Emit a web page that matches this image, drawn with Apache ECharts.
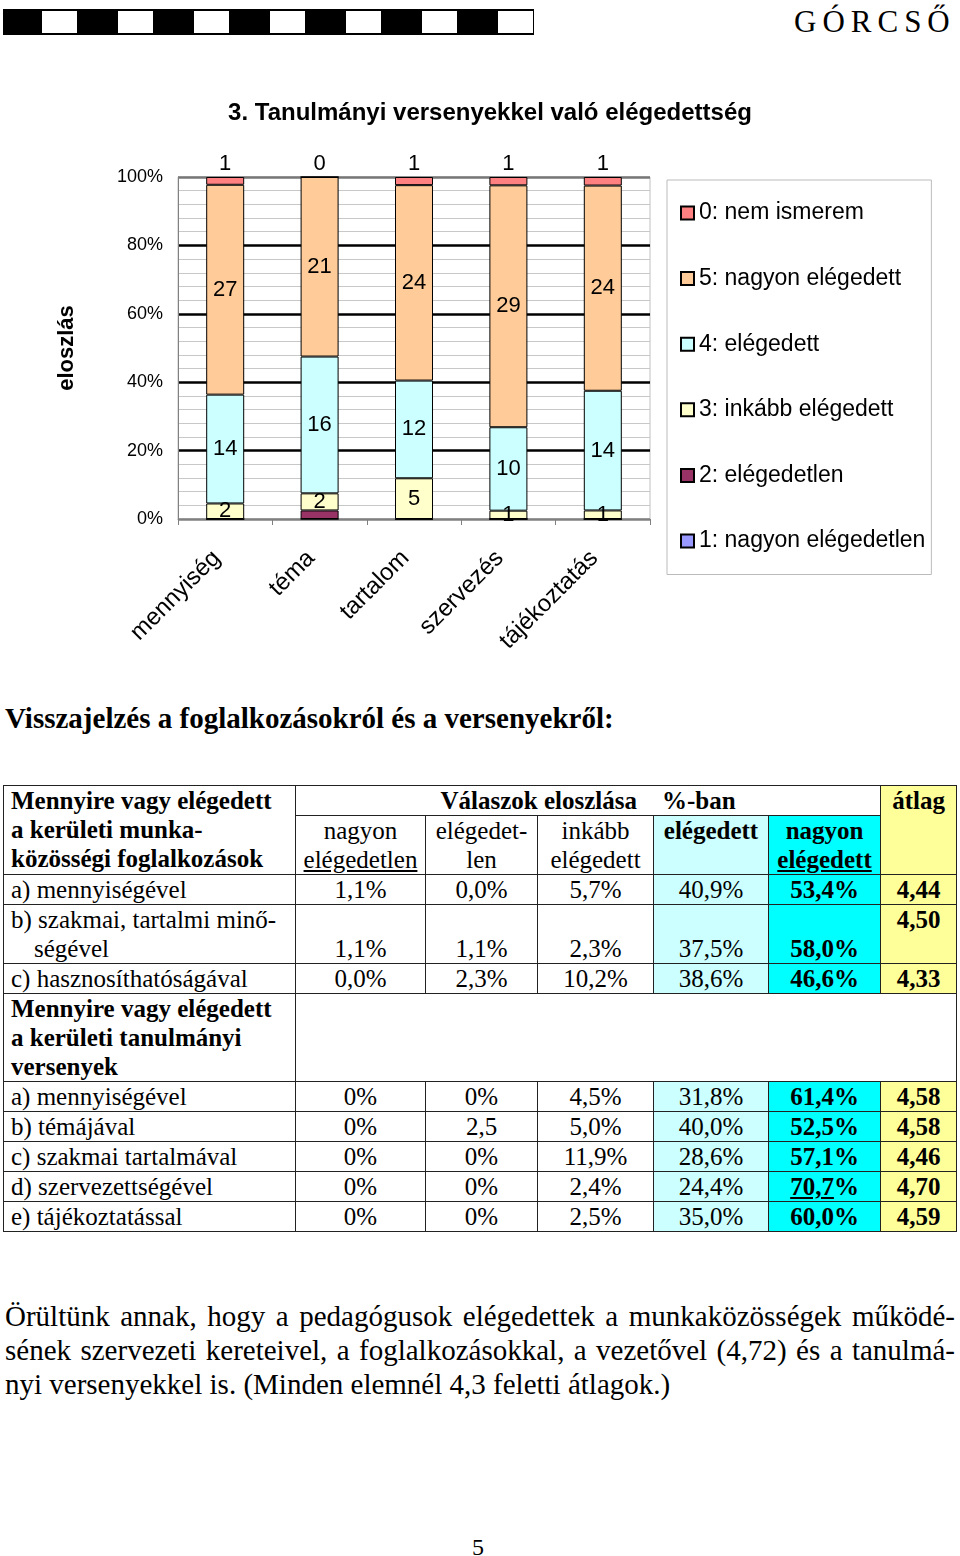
<!DOCTYPE html>
<html>
<head>
<meta charset="utf-8">
<script src="https://cdn.jsdelivr.net/npm/echarts/dist/echarts.min.js"></script>
<style>
html,body{margin:0;padding:0;background:#fff;}
body{width:960px;height:1556px;position:relative;overflow:hidden;font-family:"Liberation Serif","Times New Roman",serif;color:#000;}
#chart{position:absolute;left:0;top:0;width:960px;height:680px;}
#bar{position:absolute;left:3px;top:9px;width:531px;height:26px;background:#000;}
.sq{position:absolute;top:2px;width:35px;height:22px;background:#fff;}
#brand{position:absolute;left:794px;top:2px;font-size:31px;letter-spacing:6px;line-height:40px;}
#heading{position:absolute;left:5px;top:700px;font-size:29px;font-weight:bold;line-height:36px;white-space:nowrap;}
table{position:absolute;left:3px;top:785px;border-collapse:collapse;table-layout:fixed;width:953px;font-size:25px;line-height:29px;}
td{border:1px solid #222;padding:0;text-align:center;vertical-align:top;white-space:nowrap;overflow:hidden;}
td.l{text-align:left;padding-left:7px;}
td.b,span.b{font-weight:bold;}
.c1{background:#CCFFFF;}
.c2{background:#00FFFF;}
.c3{background:#FFFF99;}
.vb{vertical-align:bottom;}
.vm{vertical-align:middle;}
.u{text-decoration:underline;}
.pl{position:absolute;left:5px;width:950px;font-size:29px;line-height:34px;text-align:justify;text-align-last:justify;white-space:nowrap;}
#pnum{position:absolute;left:472px;top:1532px;font-size:24px;line-height:30px;}
</style>
</head>
<body>
<div id="bar"></div>
<div id="brand">GÓRCSŐ</div>
<div id="chart"></div>
<div id="heading">Visszajelzés a foglalkozásokról és a versenyekről:</div>
<table id="tbl"></table>
<div class="pl" style="top:1299px;">Örültünk annak, hogy a pedagógusok elégedettek a munkaközösségek működé-</div>
<div class="pl" style="top:1333px;">sének szervezeti kereteivel, a foglalkozásokkal, a vezetővel (4,72) és a tanulmá-</div>
<div class="pl" style="top:1367px;text-align-last:left;">nyi versenyekkel is. (Minden elemnél 4,3 feletti átlagok.)</div>
<div id="pnum">5</div>
<script>
// ---------- chart data ----------
const categories = ['mennyiség', 'téma', 'tartalom', 'szervezés', 'tájékoztatás'];
const nagyonElegedetlen = [0, 0, 0, 0, 0];   // 1
const elegedetlen = [0, 1, 0, 0, 0];         // 2
const inkabbElegedett = [2, 2, 5, 1, 1];     // 3
const elegedett = [14, 16, 12, 10, 14];      // 4
const nagyonElegedett = [27, 21, 24, 29, 24];// 5
const nemIsmerem = [1, 0, 1, 1, 1];          // 0
const yTickValues = [0, 20, 40, 60, 80, 100];

// ---------- table data ----------
const tableTitleA = ['Mennyire vagy elégedett', 'a kerületi munka-', 'közösségi foglalkozások'];
const tableTitleB = ['Mennyire vagy elégedett', 'a kerületi tanulmányi', 'versenyek'];
const rowsA = ['a) mennyiségével', 'b) szakmai, tartalmi minő-|ségével', 'c) hasznosíthatóságával'];
const valsA = [
  ['1,1%', '0,0%', '5,7%', '40,9%', '53,4%', '4,44'],
  ['1,1%', '1,1%', '2,3%', '37,5%', '58,0%', '4,50'],
  ['0,0%', '2,3%', '10,2%', '38,6%', '46,6%', '4,33']
];
const rowsB = ['a) mennyiségével', 'b) témájával', 'c) szakmai tartalmával', 'd) szervezettségével', 'e) tájékoztatással'];
const valsB = [
  ['0%', '0%', '4,5%', '31,8%', '61,4%', '4,58'],
  ['0%', '2,5', '5,0%', '40,0%', '52,5%', '4,58'],
  ['0%', '0%', '11,9%', '28,6%', '57,1%', '4,46'],
  ['0%', '0%', '2,4%', '24,4%', '70,7%', '4,70'],
  ['0%', '0%', '2,5%', '35,0%', '60,0%', '4,59']
];

// header bar squares
(function(){
  const bar = document.getElementById('bar');
  for (let k = 0; k < 7; k++) {
    const s = document.createElement('div');
    s.className = 'sq';
    s.style.left = (39 + 76 * k) + 'px';
    bar.appendChild(s);
  }
})();

// table
(function(){
  let h = '';
  h += '<colgroup><col style="width:292px"><col style="width:130px"><col style="width:112px"><col style="width:116px"><col style="width:115px"><col style="width:112px"><col style="width:76px"></colgroup>';
  h += '<tr style="height:29px"><td class="l b" rowspan="2">' + tableTitleA.join('<br>') + '</td>' +
       '<td colspan="5" class="b vm">Válaszok eloszlása&nbsp;&nbsp;&nbsp;&nbsp;%-ban</td>' +
       '<td rowspan="2" class="b c3">átlag</td></tr>';
  h += '<tr style="height:59px"><td>nagyon<br><span class="u">elégedetlen</span></td><td>elégedet-<br>len</td><td>inkább<br>elégedett</td>' +
       '<td class="b c1">elégedett</td><td class="b c2">nagyon<br><span class="u">elégedett</span></td></tr>';
  const cls = ['', '', '', 'c1', 'c2 b', 'c3 b'];
  function fmt(v, j){
    if (j === 4 && v === '70,7%') return '<span class="u">70,7</span>%';
    return v;
  }
  rowsA.forEach((r, i) => {
    const two = r.indexOf('|') >= 0;
    const ht = two ? 58 : (i === 0 ? 28 : 29);
    h += '<tr style="height:' + ht + 'px">';
    if (two) {
      const p = r.split('|');
      h += '<td class="l">' + p[0] + '<br><span style="padding-left:23px">' + p[1] + '</span></td>';
    } else h += '<td class="l vm">' + r + '</td>';
    valsA[i].forEach((v, j) => {
      let c = cls[j];
      if (two) c += (j === 5 ? '' : ' vb'); else c += ' vm';
      h += '<td class="' + c + '">' + fmt(v, j) + '</td>';
    });
    h += '</tr>';
  });
  h += '<tr style="height:88px"><td class="l b">' + tableTitleB.join('<br>') + '</td><td colspan="6"></td></tr>';
  rowsB.forEach((r, i) => {
    h += '<tr style="height:29px"><td class="l vm">' + r + '</td>';
    valsB[i].forEach((v, j) => { h += '<td class="' + cls[j] + ' vm">' + fmt(v, j) + '</td>'; });
    h += '</tr>';
  });
  document.getElementById('tbl').innerHTML = h;
})();

// chart
const FONT = '"Liberation Sans", Arial, sans-serif';
const totals = categories.map((_, i) =>
  nagyonElegedetlen[i] + elegedetlen[i] + inkabbElegedett[i] + elegedett[i] + nagyonElegedett[i] + nemIsmerem[i]);

const seriesDefs = [
  { name: '1: nagyon elégedetlen', counts: nagyonElegedetlen, color: '#9999FF', label: 'none' },
  { name: '2: elégedetlen', counts: elegedetlen, color: '#993366', label: 'none' },
  { name: '3: inkább elégedett', counts: inkabbElegedett, color: '#FFFFCC', label: 'inside' },
  { name: '4: elégedett', counts: elegedett, color: '#CCFFFF', label: 'inside' },
  { name: '5: nagyon elégedett', counts: nagyonElegedett, color: '#FFCC99', label: 'inside' },
  { name: '0: nem ismerem', counts: nemIsmerem, color: '#FF8080', label: 'top' }
];

const series = seriesDefs.map(d => ({
  name: d.name,
  type: 'bar',
  stack: 'total',
  barWidth: 38,
  data: d.counts.map((c, i) => c / totals[i] * 100),
  itemStyle: { color: d.color, borderColor: '#000', borderWidth: 1 },
  label: {
    show: d.label !== 'none',
    position: d.label === 'top' ? 'top' : 'inside',
    distance: 2,
    fontSize: 22,
    fontFamily: FONT,
    color: '#000',
    formatter: p => {
      const c = d.counts[p.dataIndex];
      if (d.label === 'inside' && c === 0) return '';
      return String(c);
    }
  },
  emphasis: { disabled: true }
}));

const chart = echarts.init(document.getElementById('chart'), null, { renderer: 'canvas' });
chart.setOption({
  animation: false,
  backgroundColor: 'transparent',
  title: {
    text: '3. Tanulmányi versenyekkel való elégedettség',
    left: 485, top: 96, textAlign: 'center',
    textStyle: { fontSize: 24, fontWeight: 'bold', fontFamily: FONT, color: '#000' }
  },
  legend: {
    orient: 'vertical',
    left: 667, top: 180,
    data: ['0: nem ismerem', '5: nagyon elégedett', '4: elégedett', '3: inkább elégedett', '2: elégedetlen', '1: nagyon elégedetlen'],
    icon: 'rect',
    itemWidth: 13, itemHeight: 13,
    itemGap: 42.6,
    padding: [21.5, 6, 22, 13],
    borderColor: '#bbbbbb', borderWidth: 1,
    textStyle: { fontSize: 23, lineHeight: 23, color: '#000', fontFamily: FONT },
    selectedMode: false
  },
  grid: { left: 178, right: 310, top: 177, bottom: 161, show: true, borderColor: '#c0c0c0', borderWidth: 1 },
  xAxis: {
    type: 'category',
    data: categories,
    axisLine: { lineStyle: { color: '#808080', width: 1 } },
    axisTick: { show: true, length: 6, lineStyle: { color: '#808080' } },
    axisLabel: { rotate: 45, interval: 0, fontSize: 24, fontFamily: FONT, color: '#000', margin: 44, verticalAlign: 'bottom' }
  },
  yAxis: {
    type: 'value',
    min: 0, max: 100, interval: 20,
    name: 'eloszlás',
    nameLocation: 'middle',
    nameGap: 100,
    nameTextStyle: { fontSize: 22, fontWeight: 'bold', fontFamily: FONT, color: '#000' },
    axisLine: { show: true, lineStyle: { color: '#808080', width: 1 } },
    axisTick: { show: false },
    axisLabel: { formatter: v => (yTickValues.indexOf(v) >= 0 ? v + '%' : ''), fontSize: 18, fontFamily: FONT, color: '#000', margin: 15 },
    splitLine: { show: true, lineStyle: { color: ['#808080', '#000', '#000', '#000', '#000', '#777777'], width: 2.5 } },
    minorTick: { show: false, splitNumber: 5 },
    minorSplitLine: { show: true, lineStyle: { color: '#c8c8c8', width: 1 } }
  },
  series: series
});
</script>
</body>
</html>
